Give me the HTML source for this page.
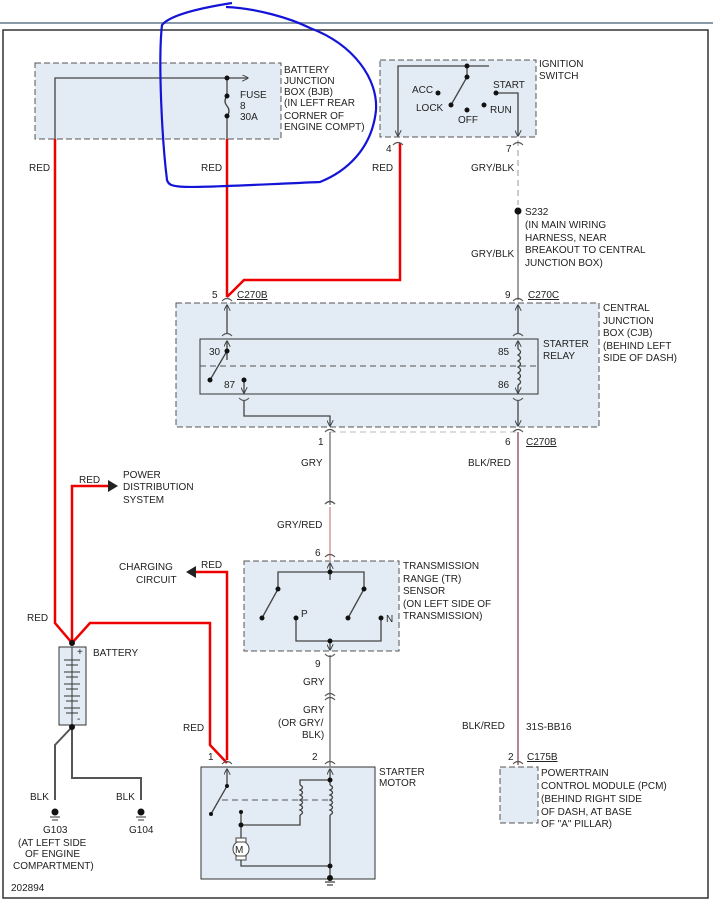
<!DOCTYPE html>
<html><head><meta charset="utf-8"><style>
html,body{margin:0;padding:0;background:#fff;}
svg{display:block;}
text{font-family:"Liberation Sans",sans-serif;font-size:10px;fill:#222;}
</style></head><body>
<svg width="713" height="904" viewBox="0 0 713 904" xmlns="http://www.w3.org/2000/svg">
<defs>
<marker id="ar" viewBox="0 0 10 10" refX="9" refY="5" markerWidth="5" markerHeight="5" orient="auto"><path d="M0,0 L10,5 L0,10" fill="none" stroke="#444" stroke-width="1.5"/></marker>
<marker id="tri" viewBox="0 0 10 10" refX="9" refY="5" markerWidth="6" markerHeight="6" orient="auto"><path d="M0,0 L10,5 L0,10z" fill="#333"/></marker>
</defs>
<line x1="0" y1="23" x2="713" y2="23" stroke="#8a9aa6" stroke-width="2"/>
<rect x="3" y="30" width="705" height="868" fill="none" stroke="#333" stroke-width="1.5"/>
<g fill="#e3ecf4" stroke="#555" stroke-dasharray="6,3">
<rect x="35" y="63" width="246" height="76"/>
<rect x="380" y="60" width="156" height="77"/>
<rect x="176" y="303" width="423" height="124"/>
<rect x="244" y="561" width="155" height="90"/>
<rect x="500" y="767" width="38" height="56"/>
</g>
<rect x="200" y="339" width="338" height="55" fill="none" stroke="#333"/>
<rect x="201" y="767" width="174" height="112" fill="#e3ecf4" stroke="#333"/>
<rect x="59" y="647" width="27" height="78" fill="#e3ecf4" stroke="#333"/>
<g stroke="#555" fill="none" stroke-dasharray="6,4">
<line x1="200" y1="366" x2="538" y2="366"/>
<line x1="222" y1="800" x2="330" y2="800"/>
<line x1="518" y1="140" x2="518" y2="205" stroke="#999"/>
<line x1="330" y1="432" x2="518" y2="432" stroke="#bbb"/>
</g>
<!-- red wires -->
<g stroke="#e00" stroke-width="2.5" fill="none">
<polyline points="55,139 55,623 72,643 90,623 210,623 210,745 227,763"/>
<polyline points="72,643 72,486 108,486"/>
<polyline points="227,139 227,297"/>
<polyline points="227,297 244,280 400,280 400,143"/>
<polyline points="227,760 227,572 195,572"/>
</g>
<polygon points="108,480 118,486 108,492" fill="#222"/>
<polygon points="196,566 186,572 196,578" fill="#222"/>
<!-- gray wires -->
<g stroke="#888" stroke-width="1.6" fill="none">
<line x1="518" y1="211" x2="518" y2="300"/>
<line x1="330" y1="432" x2="330" y2="505"/>
<line x1="330" y1="655" x2="330" y2="767"/>
</g>
<line x1="330" y1="507" x2="330" y2="561" stroke="#d9a0a0" stroke-width="1.6"/>
<line x1="518" y1="432" x2="518" y2="765" stroke="#9a6a74" stroke-width="1.6"/>
<!-- internal wires -->
<g stroke="#444" stroke-width="1.3" fill="none">
<polyline points="55,139 55,78 248,78" marker-end="url(#ar)"/>
<line x1="227" y1="78" x2="227" y2="96"/>
<path d="M227,96 q-4,5 0,10 q4,5 0,10"/>
<line x1="227" y1="116" x2="227" y2="139"/>
<polyline points="489,66 398,66 398,136" marker-end="url(#ar)"/>
<line x1="467" y1="66" x2="467" y2="77"/>
<line x1="467" y1="77" x2="451" y2="105"/>
<polyline points="496,93 518,93 518,136" marker-end="url(#ar)"/>
<line x1="227" y1="333" x2="227" y2="305" marker-end="url(#ar)"/>
<line x1="518" y1="333" x2="518" y2="305" marker-end="url(#ar)"/>
<line x1="227" y1="360" x2="227" y2="341" marker-end="url(#ar)"/>
<line x1="227" y1="351" x2="210" y2="380"/>
<line x1="244" y1="380" x2="244" y2="393" marker-end="url(#ar)"/>
<line x1="518" y1="349" x2="518" y2="341" marker-end="url(#ar)"/>
<path d="M518,349 q5,3 0,6 q5,3 0,6 q5,3 0,6 q5,3 0,6 q5,3 0,6 q5,3 0,6"/>
<line x1="518" y1="385" x2="518" y2="393" marker-end="url(#ar)"/>
<polyline points="244,400 244,416 330,416 330,426" marker-end="url(#ar)"/>
<line x1="518" y1="400" x2="518" y2="426" marker-end="url(#ar)"/>
<line x1="330" y1="580" x2="330" y2="563" marker-end="url(#ar)"/>
<polyline points="278,589 278,572 364,572 364,589"/>
<line x1="278" y1="589" x2="262" y2="618"/>
<line x1="364" y1="589" x2="348" y2="618"/>
<polyline points="296,618 296,641 381,641 381,618"/>
<line x1="330" y1="641" x2="330" y2="650" marker-end="url(#ar)"/>
<line x1="227" y1="786" x2="227" y2="769" marker-end="url(#ar)"/>
<line x1="227" y1="786" x2="211" y2="814"/>
<line x1="330" y1="785" x2="330" y2="769" marker-end="url(#ar)"/>
<path d="M330,785 q5,2.5 0,5 q5,2.5 0,5 q5,2.5 0,5 q5,2.5 0,5 q5,2.5 0,5 q5,2.5 0,5"/>
<line x1="330" y1="815" x2="330" y2="878"/>
<polyline points="330,780 300,780 300,785"/>
<path d="M300,785 q5,2.5 0,5 q5,2.5 0,5 q5,2.5 0,5 q5,2.5 0,5 q5,2.5 0,5 q5,2.5 0,5"/>
<polyline points="300,815 300,825 241,825 241,812"/>
<line x1="241" y1="825" x2="241" y2="841"/>
<polyline points="241,857 241,866 330,866"/>
<line x1="325" y1="882" x2="335" y2="882"/><line x1="327" y1="885" x2="333" y2="885"/>
</g>
<circle cx="241" cy="849" r="8" fill="#fff" stroke="#444"/>
<rect x="236" y="838" width="10" height="4" fill="#fff" stroke="#444"/>
<rect x="236" y="856" width="10" height="4" fill="#fff" stroke="#444"/>
<text x="235" y="853" font-size="11">M</text>
<!-- connectors -->
<g stroke="#555" fill="none" stroke-width="1.1">
<path d="M393,145 q5,-5 10,0"/><path d="M513,145 q5,-5 10,0"/>
<path d="M222,301 q5,-5 10,0"/><path d="M513,301 q5,-5 10,0"/>
<path d="M222,336 q5,-5 10,0"/><path d="M513,336 q5,-5 10,0"/>
<path d="M239,398 q5,5 10,0"/><path d="M513,398 q5,5 10,0"/>
<path d="M325,432 q5,-5 10,0"/><path d="M513,432 q5,-5 10,0"/>
<path d="M325,504 q5,-5 10,0"/><path d="M325,508 q5,5 10,0" transform="rotate(180 330 506)"/>
<path d="M325,557 q5,-5 10,0"/><path d="M325,654 q5,5 10,0"/>
<path d="M325,696 q5,-5 10,0"/><path d="M325,700 q5,-5 10,0"/>
<path d="M222,764 q5,-5 10,0"/><path d="M325,764 q5,-5 10,0"/><path d="M513,764 q5,-5 10,0"/>
</g>
<!-- battery -->
<g stroke="#333">
<line x1="72" y1="647" x2="72" y2="725"/>
<line x1="64" y1="660" x2="80" y2="660"/><line x1="66" y1="665" x2="78" y2="665"/>
<line x1="64" y1="672" x2="80" y2="672"/><line x1="66" y1="677" x2="78" y2="677"/>
<line x1="64" y1="684" x2="80" y2="684"/><line x1="66" y1="689" x2="78" y2="689"/>
<line x1="64" y1="696" x2="80" y2="696"/><line x1="66" y1="701" x2="78" y2="701"/>
<line x1="64" y1="708" x2="80" y2="708"/><line x1="66" y1="713" x2="78" y2="713"/>
</g>
<text x="77" y="655" font-size="8">+</text><text x="77" y="722" font-size="8">-</text>
<g stroke="#555" stroke-width="2" fill="none">
<polyline points="72,727 55,745 55,800"/>
<polyline points="72,727 72,778 141,778 141,800"/>
</g>
<g fill="#111">
<circle cx="55" cy="812" r="3.5"/><circle cx="141" cy="812" r="3.5"/>
<circle cx="72" cy="643" r="3"/><circle cx="72" cy="727" r="3"/>
<circle cx="227" cy="78" r="2.5"/><circle cx="227" cy="96" r="2.5"/><circle cx="227" cy="116" r="2.5"/>
<circle cx="467" cy="66" r="2.5"/><circle cx="467" cy="77" r="2.5"/><circle cx="451" cy="105" r="2.5"/>
<circle cx="438" cy="93" r="2.5"/><circle cx="467" cy="110" r="2.5"/><circle cx="484" cy="105" r="2.5"/><circle cx="496" cy="93" r="2.5"/>
<circle cx="518" cy="211" r="3.5"/>
<circle cx="227" cy="351" r="2.5"/><circle cx="210" cy="380" r="2.5"/><circle cx="244" cy="380" r="2.5"/>
<circle cx="330" cy="572" r="2.5"/><circle cx="278" cy="589" r="2.5"/><circle cx="364" cy="589" r="2.5"/>
<circle cx="262" cy="618" r="2.5"/><circle cx="348" cy="618" r="2.5"/><circle cx="296" cy="618" r="2.5"/><circle cx="381" cy="618" r="2.5"/><circle cx="330" cy="641" r="2.5"/>
<circle cx="227" cy="786" r="2"/><circle cx="211" cy="814" r="2"/>
<circle cx="330" cy="780" r="2.5"/><circle cx="330" cy="866" r="2.5"/><circle cx="241" cy="825" r="2.5"/><circle cx="241" cy="812" r="2"/><circle cx="330" cy="878" r="3"/>
</g>
<g stroke="#333"><line x1="50" y1="817" x2="60" y2="817"/><line x1="52" y1="820" x2="58" y2="820"/><line x1="136" y1="817" x2="146" y2="817"/><line x1="138" y1="820" x2="144" y2="820"/></g>
<!-- texts -->
<text x="284" y="73">BATTERY</text><text x="284" y="84">JUNCTION</text><text x="284" y="95">BOX (BJB)</text><text x="284" y="106">(IN LEFT REAR</text><text x="284" y="119">CORNER OF</text><text x="284" y="130">ENGINE COMPT)</text>
<text x="240" y="98">FUSE</text><text x="240" y="109">8</text><text x="240" y="120">30A</text>
<text x="539" y="67">IGNITION</text><text x="539" y="79">SWITCH</text>
<text x="412" y="93">ACC</text><text x="416" y="111">LOCK</text><text x="458" y="123">OFF</text><text x="490" y="113">RUN</text><text x="493" y="88">START</text>
<text x="386" y="152">4</text><text x="506" y="152">7</text>
<text x="29" y="171">RED</text><text x="201" y="171">RED</text><text x="372" y="171">RED</text><text x="471" y="171">GRY/BLK</text>
<text x="525" y="215">S232</text><text x="525" y="228">(IN MAIN WIRING</text><text x="525" y="241">HARNESS, NEAR</text><text x="525" y="253">BREAKOUT TO CENTRAL</text><text x="525" y="266">JUNCTION BOX)</text>
<text x="471" y="257">GRY/BLK</text>
<text x="212" y="298">5</text><text x="237" y="298" text-decoration="underline">C270B</text>
<text x="505" y="298">9</text><text x="528" y="298" text-decoration="underline">C270C</text>
<text x="603" y="311">CENTRAL</text><text x="603" y="324">JUNCTION</text><text x="603" y="336">BOX (CJB)</text><text x="603" y="349">(BEHIND LEFT</text><text x="603" y="361">SIDE OF DASH)</text>
<text x="543" y="347">STARTER</text><text x="543" y="359">RELAY</text>
<text x="209" y="355">30</text><text x="224" y="388">87</text><text x="498" y="355">85</text><text x="498" y="388">86</text>
<text x="318" y="445">1</text><text x="505" y="445">6</text><text x="526" y="445" text-decoration="underline">C270B</text>
<text x="301" y="466">GRY</text><text x="468" y="466">BLK/RED</text>
<text x="123" y="478">POWER</text><text x="123" y="490">DISTRIBUTION</text><text x="123" y="503">SYSTEM</text><text x="79" y="483">RED</text>
<text x="277" y="528">GRY/RED</text>
<text x="315" y="556">6</text>
<text x="403" y="569">TRANSMISSION</text><text x="403" y="582">RANGE (TR)</text><text x="403" y="594">SENSOR</text><text x="403" y="607">(ON LEFT SIDE OF</text><text x="403" y="619">TRANSMISSION)</text>
<text x="301" y="617">P</text><text x="386" y="622">N</text>
<text x="119" y="570">CHARGING</text><text x="136" y="583">CIRCUIT</text><text x="201" y="568">RED</text>
<text x="27" y="621">RED</text><text x="93" y="656">BATTERY</text>
<text x="315" y="667">9</text><text x="303" y="685">GRY</text>
<text x="303" y="713">GRY</text><text x="278" y="726">(OR GRY/</text><text x="302" y="738">BLK)</text>
<text x="183" y="731">RED</text><text x="462" y="729">BLK/RED</text><text x="526" y="730">31S-BB16</text>
<text x="208" y="760">1</text><text x="312" y="760">2</text><text x="508" y="760">2</text><text x="527" y="760" text-decoration="underline">C175B</text>
<text x="379" y="775">STARTER</text><text x="379" y="786">MOTOR</text>
<text x="541" y="776">POWERTRAIN</text><text x="541" y="789">CONTROL MODULE (PCM)</text><text x="541" y="802">(BEHIND RIGHT SIDE</text><text x="541" y="815">OF DASH, AT BASE</text><text x="541" y="827">OF "A" PILLAR)</text>
<text x="30" y="800">BLK</text><text x="116" y="800">BLK</text>
<text x="43" y="833">G103</text><text x="129" y="833">G104</text>
<text x="18" y="846">(AT LEFT SIDE</text><text x="25" y="857">OF ENGINE</text><text x="13" y="869">COMPARTMENT)</text>
<text x="11" y="891">202894</text>
<path d="M232,3 C200,8 170,15 162,25 C158,60 162,140 167,180 C170,190 180,188 320,182 C345,172 372,150 376,110 C378,80 355,45 310,28 C290,18 255,8 226,7" fill="none" stroke="#1414d8" stroke-width="2.2"/>
</svg>
</body></html>
